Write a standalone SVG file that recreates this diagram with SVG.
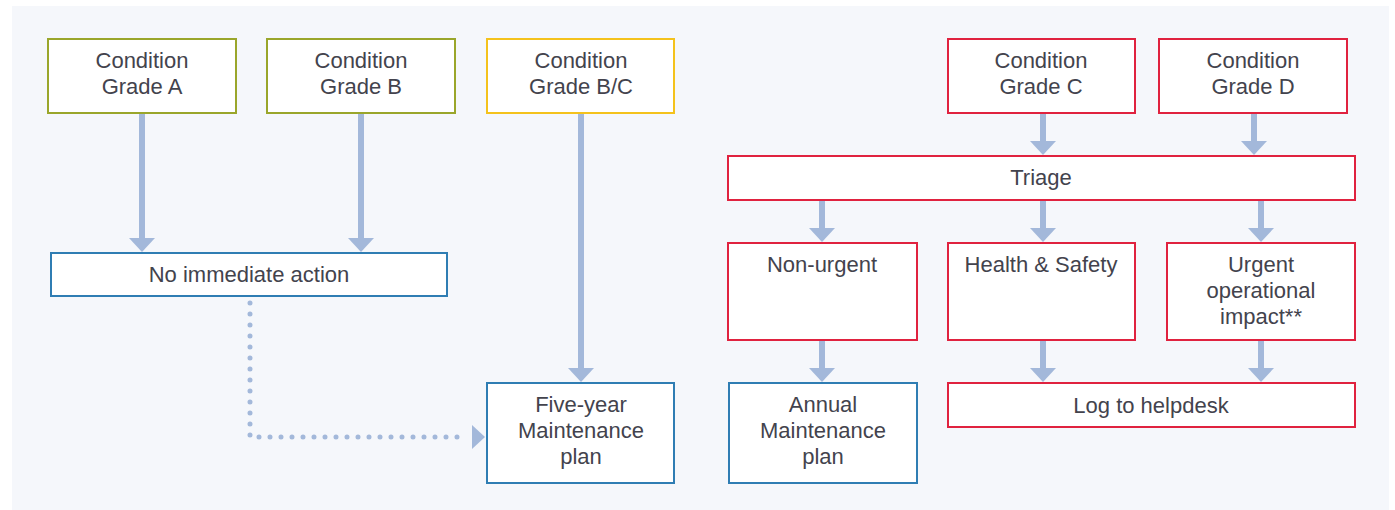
<svg xmlns="http://www.w3.org/2000/svg" width="1395" height="510" viewBox="0 0 1395 510">
  <style>
    .box { fill: #ffffff; stroke-width: 2; }
    .green { stroke: #9aa62b; }
    .yellow { stroke: #f4c21c; }
    .red { stroke: #e0223f; }
    .blue { stroke: #2f7db3; }
    text { font-family: "Liberation Sans", Arial, sans-serif; font-size: 22px; fill: #43434d; text-anchor: middle; }
    .arrow { stroke: #a3b8da; stroke-width: 6; fill: none; marker-end: url(#head); }
    .dotted { stroke: #a3b8da; stroke-width: 5; fill: none; stroke-dasharray: 0 11; stroke-linecap: round; }
  </style>
  <defs>
    <marker id="head" markerUnits="userSpaceOnUse" viewBox="0 0 14 26" markerWidth="14" markerHeight="26" refX="0" refY="13" orient="auto">
      <path d="M0,0 L14,13 L0,26 Z" fill="#a3b8da"/>
    </marker>
  </defs>

  <rect x="12" y="6" width="1377" height="504" fill="#f5f7fb"/>

  <g id="connectors">
    <line class="arrow" x1="142" y1="113" x2="142" y2="238"/>
    <line class="arrow" x1="361" y1="113" x2="361" y2="238"/>
    <line class="arrow" x1="581" y1="113" x2="581" y2="368"/>
    <path class="dotted" d="M250,303 V437 H466"/>
    <path d="M472,425 L485,437 L472,449 Z" fill="#a3b8da"/>
    <line class="arrow" x1="1043" y1="113" x2="1043" y2="141"/>
    <line class="arrow" x1="1254" y1="113" x2="1254" y2="141"/>
    <line class="arrow" x1="822" y1="200" x2="822" y2="228"/>
    <line class="arrow" x1="1043" y1="200" x2="1043" y2="228"/>
    <line class="arrow" x1="1261" y1="200" x2="1261" y2="228"/>
    <line class="arrow" x1="822" y1="340" x2="822" y2="368"/>
    <line class="arrow" x1="1043" y1="340" x2="1043" y2="368"/>
    <line class="arrow" x1="1261" y1="340" x2="1261" y2="368"/>
  </g>

  <g id="gradeA">
    <rect class="box green" x="48" y="39" width="188" height="74"/>
    <text x="142" y="68">Condition</text>
    <text x="142" y="94">Grade A</text>
  </g>
  <g id="gradeB">
    <rect class="box green" x="267" y="39" width="188" height="74"/>
    <text x="361" y="68">Condition</text>
    <text x="361" y="94">Grade B</text>
  </g>
  <g id="gradeBC">
    <rect class="box yellow" x="487" y="39" width="187" height="74"/>
    <text x="581" y="68">Condition</text>
    <text x="581" y="94">Grade B/C</text>
  </g>
  <g id="noAction">
    <rect class="box blue" x="51" y="253" width="396" height="43"/>
    <text x="249" y="282">No immediate action</text>
  </g>
  <g id="fiveYear">
    <rect class="box blue" x="487" y="383" width="187" height="100"/>
    <text x="581" y="412">Five-year</text>
    <text x="581" y="438">Maintenance</text>
    <text x="581" y="464">plan</text>
  </g>
  <g id="gradeC">
    <rect class="box red" x="948" y="39" width="187" height="74"/>
    <text x="1041" y="68">Condition</text>
    <text x="1041" y="94">Grade C</text>
  </g>
  <g id="gradeD">
    <rect class="box red" x="1159" y="39" width="188" height="74"/>
    <text x="1253" y="68">Condition</text>
    <text x="1253" y="94">Grade D</text>
  </g>
  <g id="triage">
    <rect class="box red" x="728" y="156" width="627" height="44"/>
    <text x="1041" y="185">Triage</text>
  </g>
  <g id="nonUrgent">
    <rect class="box red" x="728" y="243" width="189" height="97"/>
    <text x="822" y="272">Non-urgent</text>
  </g>
  <g id="healthSafety">
    <rect class="box red" x="948" y="243" width="187" height="97"/>
    <text x="1041" y="272">Health &amp; Safety</text>
  </g>
  <g id="urgent">
    <rect class="box red" x="1167" y="243" width="188" height="97"/>
    <text x="1261" y="272">Urgent</text>
    <text x="1261" y="298">operational</text>
    <text x="1261" y="324">impact**</text>
  </g>
  <g id="annual">
    <rect class="box blue" x="729" y="383" width="188" height="100"/>
    <text x="823" y="412">Annual</text>
    <text x="823" y="438">Maintenance</text>
    <text x="823" y="464">plan</text>
  </g>
  <g id="helpdesk">
    <rect class="box red" x="948" y="383" width="407" height="44"/>
    <text x="1151" y="413">Log to helpdesk</text>
  </g>
</svg>
